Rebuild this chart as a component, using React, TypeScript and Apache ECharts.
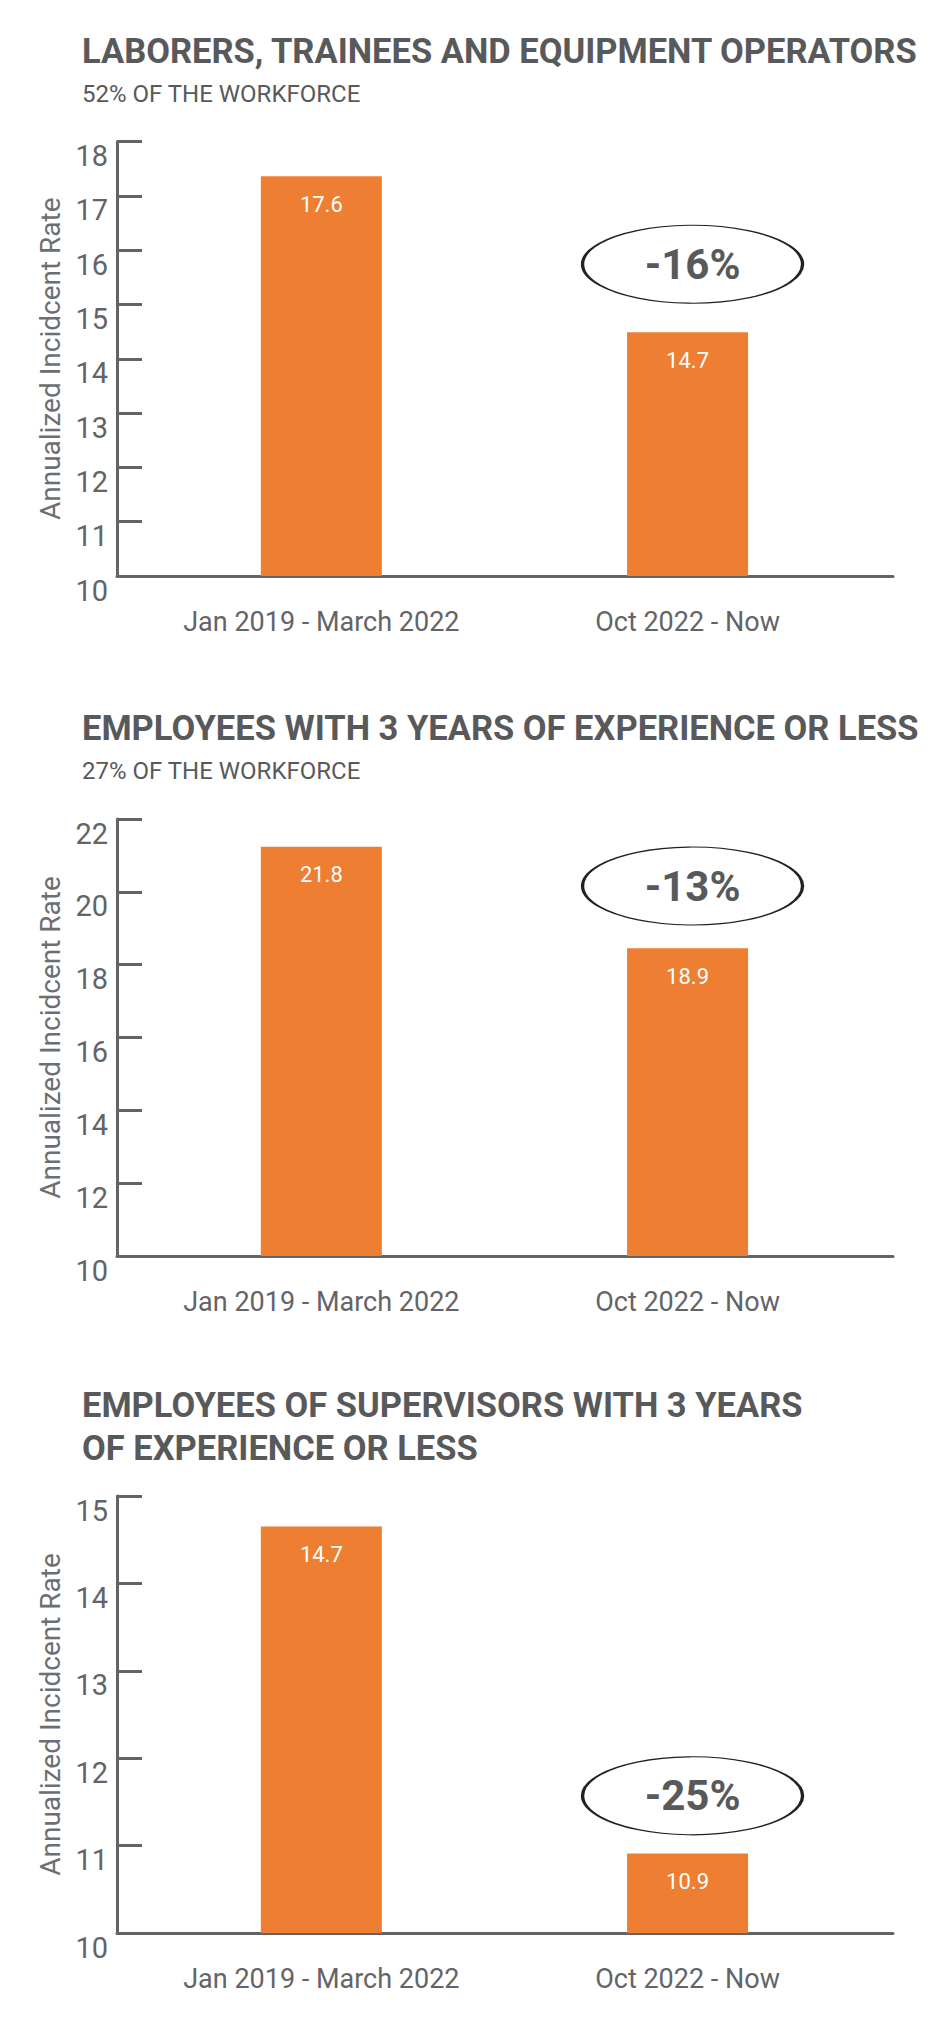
import React, { useEffect, useRef } from "react";
import * as echarts from "echarts";

const categories = ["Jan 2019 - March 2022", "Oct 2022 - Now"];

const laborersRates = [17.36, 14.49];
const laborersLabels = ["17.6", "14.7"];

const newEmployeeRates = [21.24, 18.45];
const newEmployeeLabels = ["21.8", "18.9"];

const newSupervisorRates = [14.65, 10.91];
const newSupervisorLabels = ["14.7", "10.9"];

const changeLabels = ["-16%", "-13%", "-25%"];
const changeBadgeLevels = [15.74, 20.16, 11.57];

const yMins = [10, 10, 10];
const yMaxs = [18, 22, 15];
const yIntervals = [1, 2, 1];

const titleLines = [
  ["LABORERS, TRAINEES AND EQUIPMENT OPERATORS"],
  ["EMPLOYEES WITH 3 YEARS OF EXPERIENCE OR LESS"],
  ["EMPLOYEES OF SUPERVISORS WITH 3 YEARS", "OF EXPERIENCE OR LESS"],
];
const subtitles = ["52% OF THE WORKFORCE", "27% OF THE WORKFORCE", ""];

const yAxisName = "Annualized Incidcent Rate";

const FONT = "Roboto, 'Noto Sans', sans-serif";
const ORANGE = "#ee7e32";
const AXIS = "#636467";
const TITLE = "#58595b";

export default function App() {
  const ref = useRef<HTMLDivElement>(null);

  useEffect(() => {
    if (!ref.current) return;
    const chart = echarts.init(ref.current, null, { renderer: "svg" });

    const gridTops = [141.5, 819, 1496];
    const gridHeights = [434.5, 437, 437];
    const titleCenters = [51.5, 728.5, 1405.5];
    const subCenters = [94, 771, 1448];

    const values = [laborersRates, newEmployeeRates, newSupervisorRates];
    const labels = [laborersLabels, newEmployeeLabels, newSupervisorLabels];

    const titleStyle = { fontFamily: FONT, fontSize: 34.5, fontWeight: "bold", color: TITLE };

    const titles: any[] = [];
    for (let i = 0; i < 3; i++) {
      titles.push({
        text: titleLines[i][0],
        left: 82,
        top: titleCenters[i] - 18,
        padding: 0,
        textStyle: titleStyle,
      });
      if (titleLines[i][1]) {
        titles.push({
          text: titleLines[i][1],
          left: 82,
          top: subCenters[i] - 18,
          padding: 0,
          textStyle: titleStyle,
        });
      }
      if (subtitles[i]) {
        titles.push({
          text: subtitles[i],
          left: 82,
          top: subCenters[i] - 12,
          padding: 0,
          textStyle: { fontFamily: FONT, fontSize: 24, fontWeight: "normal", color: TITLE },
        });
      }
    }

    const option: any = {
      animation: false,
      backgroundColor: "#ffffff",
      title: titles,
      grid: [0, 1, 2].map((i) => ({
        left: 117,
        top: gridTops[i],
        width: 776,
        height: gridHeights[i],
        containLabel: false,
      })),
      xAxis: [0, 1, 2].map((i) => ({
        gridIndex: i,
        type: "value",
        min: -0.558,
        max: 1.561,
        axisLine: { show: true, onZero: false, lineStyle: { color: AXIS, width: 3 } },
        axisTick: { show: false },
        splitLine: { show: false },
        axisLabel: {
          customValues: [0, 1],
          formatter: (v: number) => categories[Math.round(v)] ?? "",
          fontFamily: FONT,
          fontSize: 27,
          color: AXIS,
          margin: 32,
        },
      })),
      yAxis: [0, 1, 2].map((i) => ({
        gridIndex: i,
        type: "value",
        position: "left",
        min: yMins[i],
        max: yMaxs[i],
        interval: yIntervals[i],
        axisLine: { show: true, onZero: false, lineStyle: { color: AXIS, width: 3 } },
        axisTick: { show: true, inside: true, length: 25, lineStyle: { color: AXIS, width: 3 } },
        axisLabel: {
          fontFamily: FONT,
          fontSize: 29,
          color: AXIS,
          margin: 9,
          verticalAlign: "top",
        },
        splitLine: { show: false },
        name: yAxisName,
        nameLocation: "middle",
        nameGap: 52,
        nameTextStyle: { fontFamily: FONT, fontSize: 28, color: "#6d6e71" },
      })),
      series: [0, 1, 2].map((i) => ({
        type: "bar",
        xAxisIndex: i,
        yAxisIndex: i,
        barWidth: 121,
        data: values[i].map((v, j) => [j, v]),
        itemStyle: { color: ORANGE },
        label: {
          show: true,
          position: "insideTop",
          distance: 17,
          color: "#ffffff",
          fontFamily: FONT,
          fontSize: 22,
          formatter: (p: any) => labels[i][p.dataIndex],
        },
        markPoint: {
          silent: true,
          symbol: "circle",
          symbolSize: [220, 78],
          symbolOffset: [5, 0],
          itemStyle: { color: "#ffffff", borderColor: "#222222", borderWidth: 2 },
          label: {
            show: true,
            position: "inside",
            formatter: changeLabels[i],
            fontFamily: FONT,
            fontSize: 42,
            fontWeight: "bold",
            color: TITLE,
          },
          data: [{ coord: [1, changeBadgeLevels[i]] }],
        },
      })),
    };

    chart.setOption(option);
    return () => chart.dispose();
  }, []);

  return (
    <div
      ref={ref}
      style={{ position: "absolute", left: 0, top: 0, width: 952, height: 2020, background: "#fff" }}
    />
  );
}
